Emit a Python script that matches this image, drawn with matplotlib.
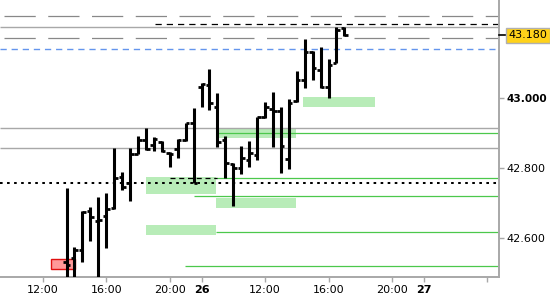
import matplotlib
matplotlib.use("Agg")
import matplotlib.pyplot as plt
from matplotlib.patches import Rectangle
from matplotlib.transforms import blended_transform_factory

# 30-minute bars, x = bar index (session hours only)
bar_idx = list(range(3, 39))
opens = [42.532, 42.544, 42.567, 42.678, 42.649, 42.665, 42.686, 42.776, 42.757, 42.841,
         42.881, 42.867, 42.876, 42.843, 42.854, 42.881, 42.929, 43.031, 43.038, 42.976,
         42.881, 42.812, 42.802, 42.824, 42.838, 42.946, 42.969, 42.965, 42.826, 42.992,
         43.052, 43.131, 43.081, 43.033, 43.102, 43.200]
highs = [42.745, 42.576, 42.678, 42.689, 42.717, 42.729, 42.857, 42.790, 42.857, 42.893,
         42.914, 42.889, 42.879, 42.847, 42.883, 42.930, 42.971, 43.043, 43.083, 43.014,
         42.892, 42.814, 42.864, 42.878, 42.946, 42.990, 43.017, 42.976, 42.997, 43.078,
         43.169, 43.135, 43.147, 43.112, 43.205, 43.205]
lows = [42.485, 42.485, 42.533, 42.593, 42.485, 42.573, 42.684, 42.738, 42.707, 42.840,
        42.852, 42.850, 42.847, 42.803, 42.829, 42.879, 42.757, 42.976, 42.967, 42.862,
        42.771, 42.693, 42.784, 42.803, 42.824, 42.943, 42.862, 42.787, 42.797, 42.989,
        43.030, 43.052, 43.030, 43.002, 43.100, 43.179]
closes = [42.524, 42.567, 42.676, 42.662, 42.652, 42.683, 42.773, 42.747, 42.840, 42.881,
          42.854, 42.883, 42.850, 42.841, 42.881, 42.929, 42.759, 43.041, 42.987, 42.876,
          42.816, 42.802, 42.829, 42.844, 42.946, 42.976, 42.965, 42.864, 42.987, 43.052,
          43.133, 43.086, 43.033, 43.095, 43.195, 43.180]
last_price = 43.180

# x axis ticks
tick_pos = [0, 8, 16, 20, 28, 36, 44, 48, 56]
tick_labels = ["12:00", "16:00", "20:00", "26", "12:00", "16:00", "20:00", "27", ""]
day_ticks = ["26", "27"]
y_ticks = [42.6, 42.8, 43.0]

# levels
gray_dash_levels = [43.235, 43.171]
gray_solid_levels = [43.203, 42.914, 42.857]
black_dash_level = (43.211, 14.1)        # price, start index
blue_dash_level = (43.140, 57.0)         # price, end index
dotted_level = 42.759
short_dash_level = (42.773, 16.0, 21.9)
green_levels = [(42.900, 21.8), (42.771, 21.8), (42.721, 19.1), (42.618, 21.8), (42.520, 17.9)]

# zones: (x0, x1, y_bottom, y_top)
green_zones = [(13.0, 21.85, 42.727, 42.775), (13.0, 21.85, 42.610, 42.638),
               (21.85, 31.9, 42.687, 42.716), (21.85, 31.9, 42.887, 42.914),
               (32.8, 41.9, 42.975, 43.004)]
red_zone = (1.05, 4.1, 42.511, 42.541)

XMIN, XMAX = -5.38, 57.47
YMIN, YMAX = 42.4894, 43.2809

fig = plt.figure(figsize=(5.5, 3.0), dpi=100)
ax = fig.add_axes([0.0, 23 / 300, 499 / 550, 277 / 300])
ax.set_xlim(XMIN, XMAX)
ax.set_ylim(YMIN, YMAX)

for x0, x1, y0, y1 in green_zones:
    ax.add_patch(Rectangle((x0, y0), x1 - x0, y1 - y0, facecolor="#b8ecb8",
                           edgecolor="none", zorder=1))
x0, x1, y0, y1 = red_zone
ax.add_patch(Rectangle((x0, y0), x1 - x0, y1 - y0, facecolor="#ff9999",
                       edgecolor="#e01010", linewidth=1.0, zorder=1))

for lvl in gray_dash_levels:
    ax.hlines(lvl, XMIN + 0.55, XMAX, color="#888888", linewidth=0.9,
              linestyles=(0, (25, 10)), zorder=2)
for lvl in gray_solid_levels:
    ax.hlines(lvl, XMIN, XMAX, color="#a8a8a8", linewidth=1.0, zorder=2)
ax.hlines(black_dash_level[0], black_dash_level[1], XMAX, color="black",
          linewidth=0.9, linestyles=(0, (5, 4)), zorder=2)
ax.hlines(blue_dash_level[0], XMIN, blue_dash_level[1], color="#6495ed",
          linewidth=1.0, linestyles=(0, (4.5, 3.5)), zorder=2)
for lvl, start in green_levels:
    ax.hlines(lvl, start, XMAX, color="#4cc84c", linewidth=0.9, zorder=2)
ax.hlines(short_dash_level[0], short_dash_level[1], short_dash_level[2], color="black",
          linewidth=0.9, linestyles=(0, (4, 3)), zorder=2)
ax.hlines(dotted_level, XMIN, XMAX, color="black", linewidth=1.45,
          linestyles=(0, (1.3, 2.2)), zorder=2)

# OHLC bars
tick_len = 0.45
ax.vlines(bar_idx, lows, highs, color="black", linewidth=2.2, zorder=3)
ax.hlines(opens, [i - tick_len for i in bar_idx], bar_idx, color="black",
          linewidth=2.0, zorder=3)
ax.hlines(closes, bar_idx, [i + tick_len for i in bar_idx], color="black",
          linewidth=2.0, zorder=3)

# axes styling
for side in ["left", "top"]:
    ax.spines[side].set_visible(False)
for side in ["right", "bottom"]:
    ax.spines[side].set_color("#a8a8a8")
    ax.spines[side].set_linewidth(1.4)

ax.yaxis.tick_right()
ax.set_yticks(y_ticks)
ax.set_yticklabels([f"{v:.3f}" for v in y_ticks])
ax.set_xticks(tick_pos)
ax.set_xticklabels(tick_labels)
ax.tick_params(axis="both", colors="#a8a8a8", labelcolor="black", labelsize=8,
               length=3.5, width=1.0, pad=2)
for lab in ax.get_xticklabels():
    if lab.get_text() in day_ticks:
        lab.set_fontweight("bold")
for lab in ax.get_yticklabels():
    if lab.get_text() == "43.000":
        lab.set_fontweight("bold")
        lab.set_fontsize(7.6)

# last price marker
trans = blended_transform_factory(ax.transAxes, ax.transData)
ax.plot([1.0, 1.012], [last_price, last_price], color="black", linewidth=1.2,
        transform=trans, clip_on=False, zorder=5)
ax.annotate(f"{last_price:.3f}", xy=(1.0, last_price), xycoords=trans,
            xytext=(7.0, 0), textcoords="offset points", ha="left", va="center",
            fontsize=8, color="black", annotation_clip=False,
            bbox=dict(boxstyle="square,pad=0.25", facecolor="#ffd21a",
                      edgecolor="#b0b0b0", linewidth=1.0))

fig.savefig("out.png", dpi=100)
